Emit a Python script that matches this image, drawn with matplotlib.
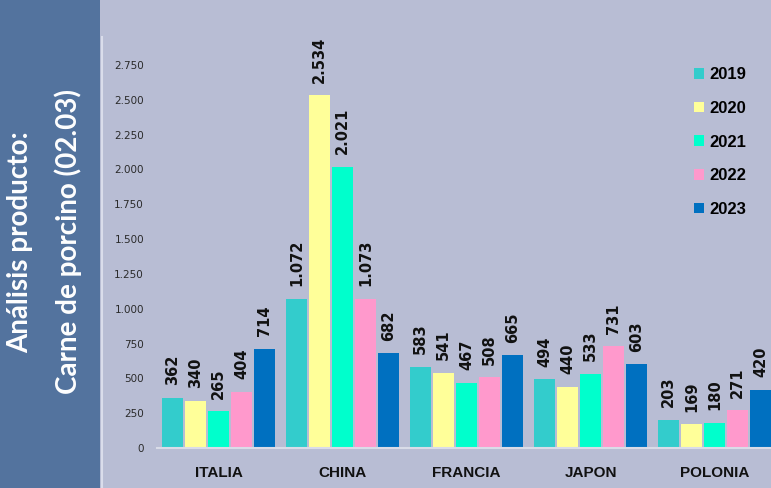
import matplotlib.pyplot as plt
from matplotlib.patches import Patch, Rectangle
from matplotlib.lines import Line2D
from matplotlib.ticker import FuncFormatter
import numpy as np

# -------------------------------------------------
# Data
# -------------------------------------------------
countries = ["ITALIA", "CHINA", "FRANCIA", "JAPON", "POLONIA"]
years = ["2019", "2020", "2021", "2022", "2023"]

v2019 = [362, 1072, 583, 494, 203]
v2020 = [340, 2534, 541, 440, 169]
v2021 = [265, 2021, 467, 533, 180]
v2022 = [404, 1073, 508, 731, 271]
v2023 = [714, 682, 665, 603, 420]
series = [v2019, v2020, v2021, v2022, v2023]

colors = ["#33CCCC", "#FFFF99", "#00FFCC", "#FF99CC", "#0070C0"]

bg = "#B8BDD4"
side = "#53739E"
label_font = "Liberation Sans"


def dots(v, pos=None):
    return f"{int(v):,}".replace(",", ".")


# -------------------------------------------------
# Figure
# -------------------------------------------------
W, H = 771, 488
fig = plt.figure(figsize=(W / 100, H / 100), dpi=100, facecolor=bg)

# side panel
fig.patches.append(Rectangle((0, 0), 100 / W, 1, transform=fig.transFigure,
                             facecolor=side, edgecolor="none", zorder=0))
fig.add_artist(Line2D([102 / W, 102 / W], [0, 1 - 37 / H], transform=fig.transFigure,
                      color="#DADDEB", lw=1.5))

fig.text(20 / W, 1 - 242 / H, "Análisis producto:", rotation=90,
         ha="center", va="center", color="white", fontsize=20,
         fontweight="bold", family="Lato")
fig.text(68 / W, 1 - 241 / H, "Carne de porcino (02.03)", rotation=90,
         ha="center", va="center", color="white", fontsize=20,
         fontweight="bold", family="Lato")

# axes: x from -0.5 (px 156.5) to 4.5 (px 776.5, clipped by figure)
x0, x1 = 156.5, 776.5
y0, y1 = 448, 65
ax = fig.add_axes([x0 / W, 1 - y0 / H, (x1 - x0) / W, (y0 - y1) / H])
ax.set_facecolor("none")

x = np.arange(len(countries))
pitch = 0.185
bw = 0.17
for i, (vals, c) in enumerate(zip(series, colors)):
    xs = x + (i - 2) * pitch
    ax.bar(xs, vals, width=bw, color=c, edgecolor="none", zorder=2)
    for xi, v in zip(xs, vals):
        ax.annotate(dots(v), (xi, v), xytext=(0, 9), textcoords="offset points",
                    rotation=90, ha="center", va="bottom", fontsize=10.5,
                    fontweight="bold", color="#111111", annotation_clip=False)

ax.set_xlim(-0.5, 4.5)
ax.set_ylim(0, 2750)
ax.set_yticks(np.arange(0, 2751, 250))
ax.yaxis.set_major_formatter(FuncFormatter(dots))
ax.tick_params(axis="y", length=0, pad=9, labelsize=7.5, labelcolor="#2a2a2a")
ax.set_xticks(x)
ax.set_xticklabels(countries)
ax.tick_params(axis="x", length=0, pad=13)
for lbl in ax.get_xticklabels():
    lbl.set_family(label_font)
    lbl.set_fontweight("bold")
    lbl.set_fontsize(11)
    lbl.set_color("#111111")

for s in ["top", "right", "left"]:
    ax.spines[s].set_visible(False)
ax.spines["bottom"].set_color("#D9DCE8")
ax.spines["bottom"].set_linewidth(1.5)

# legend
handles = [Patch(facecolor=c, edgecolor="none", label=y) for c, y in zip(colors, years)]
fig.legend(handles=handles, loc="upper left", bbox_to_anchor=(686 / W, 1 - 59 / H),
           frameon=False, prop={"family": label_font, "weight": "bold", "size": 12},
           handlelength=0.6, handleheight=0.6, handletextpad=0.3,
           labelspacing=1.12, borderpad=0)

fig.savefig("out.png", dpi=100, facecolor=bg)
